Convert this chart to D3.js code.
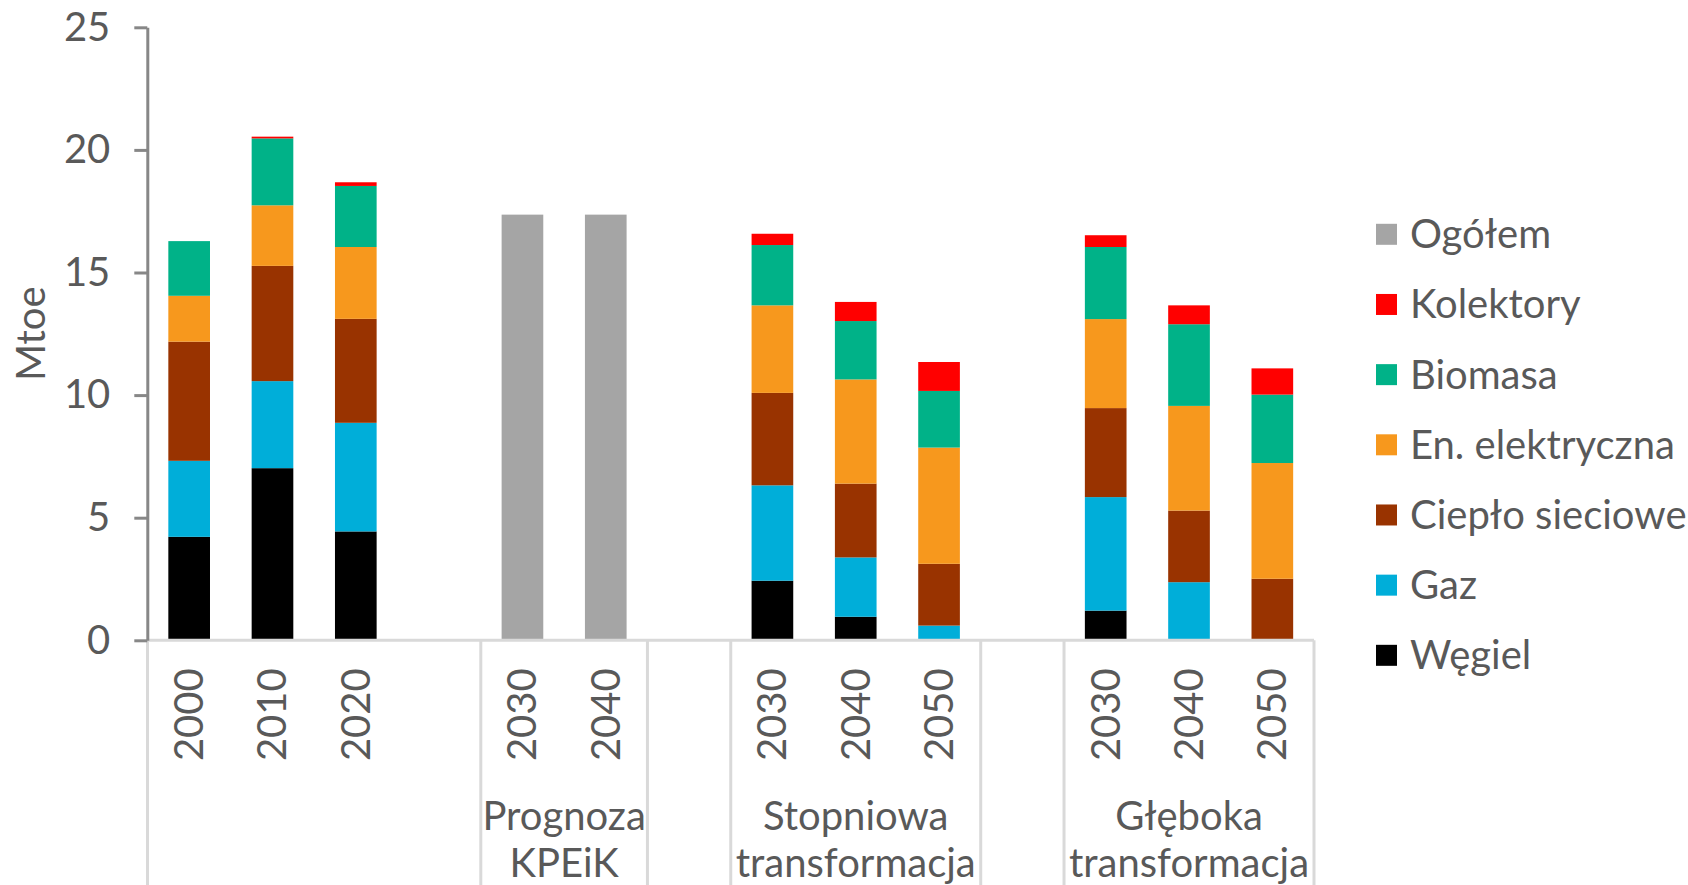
<!DOCTYPE html>
<html>
<head>
<meta charset="utf-8">
<script src="https://cdn.jsdelivr.net/npm/d3@7"></script>
<style>
  html, body { margin: 0; padding: 0; background: #ffffff; }
  svg { display: block; font-family: Lato, "Open Sans", sans-serif; }
</style>
</head>
<body>
<svg id="chart" width="1688" height="885"></svg>
<script>
// kategorie (puste miejsca = odstęp między grupami)
var years = ["2000", "2010", "2020", "", "2030", "2040", "", "2030", "2040", "2050", "", "2030", "2040", "2050"];
var groupNames = [[], ["Prognoza", "KPEiK"], [], ["Stopniowa", "transformacja"], [], ["Głęboka", "transformacja"]];
var groupSizes = [4, 2, 1, 3, 1, 3];

// serie (Mtoe), od dołu stosu
var wegiel     = [4.22, 7.02, 4.44, null, null, null, null, 2.43, 0.96, 0,    null, 1.21, 0,    0];
var gaz        = [3.10, 3.55, 4.43, null, null, null, null, 3.89, 2.42, 0.60, null, 4.63, 2.37, 0];
var cieplo     = [4.86, 4.70, 4.24, null, null, null, null, 3.77, 3.01, 2.52, null, 3.63, 2.92, 2.51];
var elektr     = [1.87, 2.47, 2.93, null, null, null, null, 3.57, 4.25, 4.74, null, 3.63, 4.27, 4.72];
var biomasa    = [2.23, 2.73, 2.49, null, null, null, null, 2.46, 2.38, 2.31, null, 2.94, 3.33, 2.79];
var kolektory  = [0,    0.07, 0.15, null, null, null, null, 0.46, 0.78, 1.18, null, 0.48, 0.77, 1.07];
var ogolem     = [null, null, null, null, 17.36, 17.36, null, null, null, null, null, null, null, null];

var seriesNames  = ["Węgiel", "Gaz", "Ciepło sieciowe", "En. elektryczna", "Biomasa", "Kolektory", "Ogółem"];
var seriesValues = [wegiel, gaz, cieplo, elektr, biomasa, kolektory, ogolem];
var seriesColors = ["#000000", "#00AED9", "#993300", "#F7981D", "#00B288", "#FF0000", "#A5A5A5"];

var yTicks = [0, 5, 10, 15, 20, 25];

var textColor = "#595959";
var svg = d3.select("#chart");

var x = d3.scaleBand()
  .domain(d3.range(years.length))
  .range([147.5, 1314])
  .paddingInner(0.5)
  .paddingOuter(0.25);

var y = d3.scaleLinear().domain([0, 25]).range([640.3, 27.3]);

// tabela do stosu
var rows = years.map(function(d, i) {
  var r = { idx: i };
  seriesNames.forEach(function(name, s) { r[name] = seriesValues[s][i] || 0; });
  return r;
});
var stacked = d3.stack().keys(seriesNames)(rows);

// linie podziału grup pod osią X
var bounds = [0];
groupSizes.forEach(function(n) { bounds.push(bounds[bounds.length - 1] + n); });
var step = x.step();
var x0 = x.range()[0];
function boundX(b) { return x0 + b * step; }

svg.append("g").selectAll("line")
  .data(bounds)
  .join("line")
  .attr("x1", boundX).attr("x2", boundX)
  .attr("y1", y(0)).attr("y2", 885)
  .attr("stroke", "#D9D9D9")
  .attr("stroke-width", 3);

// słupki
svg.append("g").selectAll("g")
  .data(stacked)
  .join("g")
  .attr("fill", function(d, i) { return seriesColors[i]; })
  .selectAll("rect")
  .data(function(d) { return d.filter(function(p) { return p[1] - p[0] > 0; }); })
  .join("rect")
  .attr("x", function(p) { return x(p.data.idx); })
  .attr("width", x.bandwidth())
  .attr("y", function(p) { return y(p[1]); })
  .attr("height", function(p) { return y(p[0]) - y(p[1]); });

// oś X
var xAxis = svg.append("g")
  .attr("transform", "translate(0," + y(0) + ")")
  .call(d3.axisBottom(x).tickSize(0).tickFormat(function(i) { return years[i]; }));
xAxis.select(".domain")
  .attr("d", "M" + boundX(0) + ",0H" + boundX(years.length))
  .attr("stroke", "#D9D9D9")
  .attr("stroke-width", 3);
xAxis.selectAll(".tick text")
  .attr("transform", "translate(0,28) rotate(-90)")
  .attr("x", 0).attr("y", 0)
  .attr("dy", "0.35em")
  .attr("text-anchor", "end")
  .attr("fill", textColor)
  .attr("font-size", 40)
  .attr("font-family", "Lato");

// etykiety grup
svg.append("g").selectAll("text")
  .data(groupNames.map(function(n, i) { return { lines: n, a: bounds[i], b: bounds[i + 1] }; }))
  .join("text")
  .attr("text-anchor", "middle")
  .attr("fill", textColor)
  .attr("font-size", 40)
  .selectAll("tspan")
  .data(function(g) { return g.lines.map(function(t, k) { return { t: t, k: k, cx: (boundX(g.a) + boundX(g.b)) / 2 }; }); })
  .join("tspan")
  .attr("x", function(d) { return d.cx; })
  .attr("y", function(d) { return 830 + d.k * 47; })
  .text(function(d) { return d.t; });

// oś Y
var yAxis = svg.append("g")
  .attr("transform", "translate(147.3,0)")
  .call(d3.axisLeft(y).tickValues(yTicks).tickSize(13).tickSizeOuter(0).tickPadding(24));
yAxis.select(".domain").attr("stroke", "#878787").attr("stroke-width", 3);
yAxis.selectAll(".tick line").attr("stroke", "#878787").attr("stroke-width", 3);
yAxis.selectAll(".tick text")
  .attr("fill", textColor)
  .attr("font-size", 40)
  .attr("font-family", "Lato");

svg.append("text")
  .attr("transform", "translate(45," + ((y(0) + y(25)) / 2) + ") rotate(-90)")
  .attr("text-anchor", "middle")
  .attr("fill", textColor)
  .attr("font-size", 40)
  .text("Mtoe");

// legenda (odwrotna kolejność)
var legendOrder = d3.range(seriesNames.length).reverse();
var legend = svg.append("g").selectAll("g")
  .data(legendOrder)
  .join("g")
  .attr("transform", function(s, k) { return "translate(1376," + (234.3 + k * 70.17) + ")"; });
legend.append("rect")
  .attr("x", 0).attr("y", -10.5)
  .attr("width", 21).attr("height", 21)
  .attr("fill", function(s) { return seriesColors[s]; });
legend.append("text")
  .attr("x", 34)
  .attr("dy", "0.35em")
  .attr("fill", textColor)
  .attr("font-size", 40)
  .text(function(s) { return seriesNames[s]; });
</script>
</body>
</html>
